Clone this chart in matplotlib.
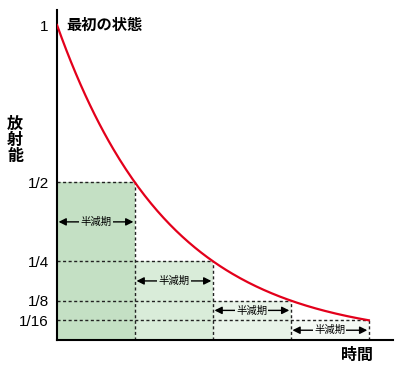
import numpy as np
import matplotlib.pyplot as plt

plt.rcParams['font.family'] = ['Noto Sans CJK JP', 'DejaVu Sans']

# half-life steps and remaining fraction
periods = [1, 2, 3, 4]
levels = [1/2, 1/4, 1/8, 1/16]
tick_labels = ['1/2', '1/4', '1/8', '1/16']
fill_colors = ['#c4e0c4', '#d9ecd9', '#e8f3e8', '#f4f9f4']
arrow_heights = [0.375, 0.1875, 0.094, 0.031]

fig = plt.figure(figsize=(4, 3.68), dpi=100)
ax = fig.add_axes([0.1425, 0.0761, 0.84, 0.8967])

# shaded half-life blocks
for i, (p, lv) in enumerate(zip(periods, levels)):
    ax.fill_between([p - 1, p], 0, lv, color=fill_colors[i], lw=0, zorder=1)
    ax.plot([0, p], [lv, lv], color='#222222', lw=1.0, ls=(0, (2.2, 1.8)), zorder=2)
    ax.plot([p, p], [0, lv], color='#222222', lw=1.0, ls=(0, (2.2, 1.8)), zorder=2)

    ax.annotate('', xy=(p - 1 + 0.02, arrow_heights[i]), xytext=(p - 0.02, arrow_heights[i]),
                arrowprops=dict(arrowstyle='<|-|>', color='black', lw=1.0,
                                mutation_scale=11, shrinkA=0, shrinkB=0), zorder=3)
    ax.text(p - 0.5, arrow_heights[i], '半減期', ha='center', va='center', fontsize=7.5,
            bbox=dict(boxstyle='square,pad=0.1', fc=fill_colors[i], ec='none'), zorder=4)

# decay curve
t = np.linspace(0, 4, 200)
ax.plot(t, 0.5 ** t, color='#e3001b', lw=1.6, zorder=5)

ax.set_xlim(0, 4.31)
ax.set_ylim(0, 1.0476)
ax.set_xticks([])
ax.set_yticks([1] + levels)
ax.set_yticklabels(['1'] + tick_labels, fontsize=11, family=['Liberation Sans'])
ax.tick_params(axis='y', length=0, pad=6)
for s in ['top', 'right']:
    ax.spines[s].set_visible(False)
ax.spines['left'].set_linewidth(1.5)
ax.spines['bottom'].set_linewidth(1.5)

ax.text(0.12, 1.0, '最初の状態', fontsize=11, fontweight='bold', va='center', ha='left')
fig.text(0.038, 0.62, '放\n射\n能', fontsize=11.5, fontweight='bold', ha='center', va='center',
         linespacing=1.0)
fig.text(0.893, 0.035, '時間', fontsize=11.5, fontweight='bold', ha='center', va='center')

fig.savefig('out.png', dpi=100)
